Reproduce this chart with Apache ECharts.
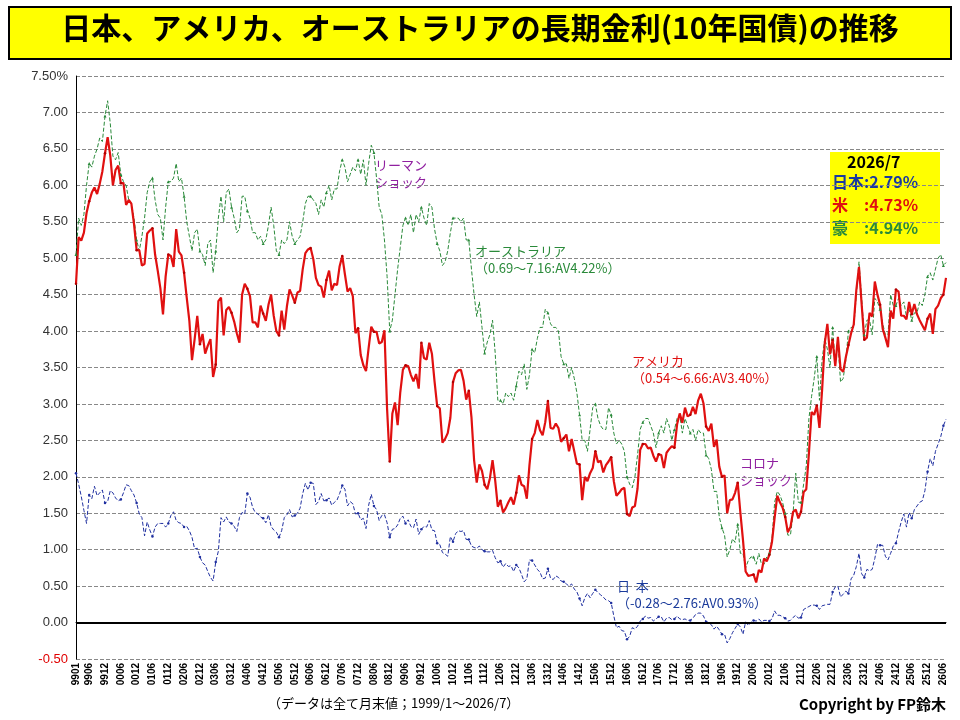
<!DOCTYPE html>
<html>
<head>
<meta charset="utf-8">
<script src="https://cdn.jsdelivr.net/npm/echarts@6/dist/echarts.min.js"></script>
<style>html,body{margin:0;padding:0;background:#fff}#chart{width:960px;height:720px}</style>
</head>
<body>
<div id="chart"></div>
<script>
// monthly end values, 1999/1 - 2026/7
const japan = [
  2.05,1.90,1.73,1.54,1.36,1.75,1.70,1.87,1.74,1.78,1.82,1.64,
  1.66,1.81,1.78,1.71,1.67,1.69,1.78,1.89,1.88,1.81,1.75,1.64,
  1.49,1.44,1.19,1.38,1.27,1.18,1.31,1.36,1.36,1.36,1.31,1.36,
  1.47,1.52,1.40,1.37,1.36,1.31,1.32,1.26,1.17,1.01,1.02,0.90,
  0.82,0.79,0.70,0.62,0.57,0.83,0.98,1.44,1.38,1.45,1.38,1.36,
  1.32,1.25,1.44,1.51,1.49,1.77,1.72,1.58,1.51,1.49,1.45,1.43,
  1.37,1.48,1.32,1.27,1.24,1.17,1.26,1.44,1.48,1.55,1.45,1.47,
  1.50,1.57,1.77,1.91,1.82,1.92,1.91,1.62,1.66,1.77,1.67,1.68,
  1.71,1.61,1.65,1.68,1.77,1.88,1.83,1.60,1.66,1.63,1.49,1.50,
  1.41,1.43,1.29,1.61,1.76,1.60,1.55,1.40,1.47,1.48,1.37,1.17,
  1.28,1.29,1.34,1.43,1.46,1.36,1.41,1.32,1.30,1.42,1.21,1.28,
  1.32,1.31,1.40,1.27,1.26,1.09,1.07,0.96,0.94,0.91,1.18,1.11,
  1.22,1.26,1.25,1.26,1.14,1.14,1.05,1.03,1.02,1.05,1.00,0.98,
  0.97,0.97,0.99,0.89,0.82,0.84,0.76,0.81,0.77,0.78,0.70,0.79,
  0.75,0.66,0.56,0.60,0.86,0.85,0.79,0.73,0.69,0.60,0.61,0.74,
  0.61,0.59,0.64,0.62,0.57,0.56,0.53,0.50,0.53,0.46,0.42,0.33,
  0.23,0.34,0.40,0.34,0.40,0.45,0.41,0.38,0.35,0.31,0.30,0.27,
  0.09,-0.07,-0.05,-0.11,-0.12,-0.23,-0.19,-0.07,-0.09,-0.05,0.02,0.05,
  0.09,0.06,0.07,0.02,0.05,0.08,0.08,0.01,0.06,0.07,0.04,0.05,
  0.09,0.05,0.04,0.05,0.03,0.03,0.06,0.11,0.13,0.13,0.09,0.01,
  0.00,-0.03,-0.09,-0.05,-0.10,-0.16,-0.16,-0.28,-0.22,-0.14,-0.08,-0.02,
  -0.06,-0.16,0.01,-0.04,0.00,0.03,0.02,0.05,0.01,0.03,0.03,0.02,
  0.05,0.16,0.10,0.10,0.08,0.06,0.02,0.03,0.07,0.10,0.06,0.07,
  0.18,0.20,0.22,0.24,0.24,0.23,0.18,0.23,0.24,0.25,0.25,0.42,
  0.49,0.50,0.35,0.39,0.43,0.40,0.60,0.65,0.77,0.95,0.67,0.62,
  0.73,0.71,0.73,0.88,1.07,1.06,1.06,0.91,0.86,0.95,1.05,1.09,
  1.24,1.38,1.49,1.31,1.51,1.43,1.55,1.60,1.65,1.67,1.81,2.07,
  2.25,2.15,2.35,2.45,2.55,2.70,2.79
];
const usa = [
  4.65,5.29,5.24,5.35,5.62,5.78,5.90,5.97,5.88,6.02,6.19,6.44,
  6.66,6.41,6.00,6.21,6.27,6.03,6.03,5.73,5.80,5.75,5.47,5.11,
  5.11,4.90,4.92,5.34,5.38,5.41,5.05,4.83,4.59,4.23,4.75,5.05,
  5.03,4.88,5.40,5.09,5.04,4.80,4.46,4.14,3.60,3.89,4.21,3.82,
  3.96,3.69,3.80,3.89,3.37,3.54,4.41,4.46,3.94,4.29,4.33,4.25,
  4.13,3.97,3.84,4.50,4.65,4.58,4.48,4.12,4.12,4.05,4.35,4.24,
  4.14,4.36,4.50,4.21,4.00,3.94,4.28,4.02,4.34,4.57,4.49,4.39,
  4.53,4.55,4.85,5.07,5.12,5.14,4.99,4.73,4.63,4.61,4.46,4.70,
  4.83,4.56,4.65,4.63,4.89,5.03,4.78,4.54,4.59,4.48,3.97,4.04,
  3.67,3.53,3.45,3.77,4.06,3.99,3.99,3.83,3.85,4.01,2.93,2.21,
  2.87,3.02,2.71,3.16,3.47,3.53,3.52,3.40,3.31,3.41,3.21,3.84,
  3.63,3.61,3.84,3.69,3.31,2.97,2.94,2.47,2.52,2.60,2.81,3.30,
  3.42,3.46,3.47,3.32,3.06,3.18,2.82,2.23,1.92,2.17,2.08,1.89,
  1.83,1.98,2.23,1.95,1.59,1.67,1.51,1.57,1.65,1.72,1.62,1.78,
  2.02,1.89,1.87,1.70,2.16,2.52,2.60,2.78,2.64,2.57,2.75,3.04,
  2.67,2.66,2.73,2.67,2.48,2.53,2.58,2.35,2.52,2.35,2.18,2.17,
  1.68,2.00,1.94,2.05,2.12,2.35,2.20,2.22,2.06,2.16,2.21,2.27,
  1.94,1.74,1.78,1.83,1.85,1.49,1.46,1.58,1.60,1.84,2.37,2.45,
  2.45,2.39,2.40,2.29,2.21,2.31,2.30,2.12,2.33,2.38,2.42,2.40,
  2.72,2.87,2.74,2.95,2.83,2.85,2.96,2.86,3.05,3.14,3.01,2.69,
  2.63,2.73,2.41,2.51,2.14,2.00,2.02,1.50,1.68,1.69,1.78,1.92,
  1.51,1.13,0.70,0.64,0.65,0.66,0.55,0.72,0.69,0.88,0.84,0.93,
  1.11,1.44,1.74,1.65,1.58,1.45,1.24,1.31,1.52,1.55,1.43,1.52,
  1.79,1.83,2.32,2.89,2.85,2.98,2.67,3.19,3.83,4.10,3.68,3.88,
  3.52,3.92,3.48,3.44,3.64,3.81,3.97,4.09,4.57,4.88,4.37,3.88,
  3.91,4.25,4.20,4.68,4.50,4.36,4.03,3.91,3.78,4.28,4.17,4.57,
  4.54,4.21,4.21,4.16,4.40,4.23,4.37,4.23,4.15,4.08,4.01,4.17,
  4.24,3.96,4.30,4.35,4.45,4.50,4.73
];
const australia = [
  5.05,5.55,5.45,5.60,6.00,6.30,6.25,6.40,6.50,6.65,6.60,6.95,
  7.16,6.85,6.40,6.35,6.45,6.15,6.05,6.00,5.80,5.75,5.55,5.25,
  5.10,5.30,5.55,5.90,6.05,6.10,5.80,5.60,5.55,5.25,5.70,6.05,
  6.05,6.10,6.30,6.05,6.10,5.85,5.50,5.30,5.10,5.35,5.40,5.10,
  5.05,4.90,5.20,5.25,4.80,5.10,5.55,5.85,5.50,5.90,5.95,5.70,
  5.55,5.35,5.40,5.85,5.85,5.65,5.55,5.35,5.35,5.25,5.30,5.20,
  5.25,5.45,5.70,5.45,5.10,5.05,5.25,5.20,5.25,5.50,5.30,5.20,
  5.25,5.30,5.50,5.75,5.85,5.85,5.80,5.75,5.60,5.80,5.70,5.90,
  6.00,5.80,5.95,5.95,6.20,6.35,6.25,6.05,6.15,6.25,6.20,6.35,
  6.15,6.35,6.00,6.30,6.55,6.45,6.10,5.70,5.60,5.25,4.75,4.00,
  4.15,4.50,4.85,5.15,5.45,5.55,5.45,5.60,5.35,5.60,5.50,5.70,
  5.55,5.45,5.75,5.70,5.40,5.20,5.10,4.90,4.95,5.10,5.35,5.55,
  5.55,5.55,5.50,5.55,5.25,5.25,4.85,4.50,4.20,4.40,4.05,3.70,
  3.85,3.95,4.15,3.70,3.05,3.05,3.00,3.15,3.10,3.15,3.05,3.25,
  3.45,3.40,3.55,3.20,3.40,3.75,3.70,3.90,4.05,4.05,4.30,4.25,
  4.10,4.05,4.05,4.00,3.65,3.55,3.55,3.35,3.50,3.35,3.15,2.85,
  2.50,2.50,2.35,2.65,2.95,3.00,2.80,2.70,2.65,2.65,2.95,2.85,
  2.60,2.45,2.50,2.45,2.35,2.00,1.90,1.85,2.00,2.30,2.65,2.75,
  2.80,2.80,2.70,2.60,2.40,2.60,2.70,2.60,2.80,2.70,2.50,2.65,
  2.80,2.85,2.60,2.80,2.70,2.60,2.65,2.50,2.65,2.60,2.60,2.30,
  2.25,2.10,1.80,1.80,1.45,1.30,1.20,0.90,1.00,1.15,1.10,1.35,
  0.95,0.95,0.75,0.85,0.90,0.90,0.80,0.95,0.80,0.80,0.90,0.95,
  1.15,1.65,1.80,1.75,1.65,1.50,1.20,1.20,1.50,2.05,1.65,1.65,
  1.90,2.15,2.80,3.10,3.35,3.65,3.05,3.60,3.90,3.75,3.50,4.05,
  3.55,3.85,3.30,3.35,3.60,4.00,4.05,4.05,4.50,4.95,4.45,3.95,
  4.15,4.15,3.95,4.45,4.40,4.30,4.10,3.95,3.95,4.50,4.35,4.35,
  4.45,4.35,4.40,4.20,4.30,4.15,4.25,4.25,4.40,4.35,4.50,4.75,
  4.80,4.70,4.85,5.00,5.05,4.90,4.94
];

// yymm category labels
const months = [];
for (let y = 1999; y <= 2026; y++) {
  for (let m = 1; m <= 12; m++) {
    if (y === 2026 && m > 7) break;
    months.push(String(y % 100).padStart(2, '0') + String(m).padStart(2, '0'));
  }
}

const showLabel = (i) => i === 0 || (i - 5) % 6 === 0;

const chart = echarts.init(document.getElementById('chart'));
const jp = 'Noto Sans CJK JP';

const note = (x, y, text, color, size) => ({
  type: 'text', left: x, top: y,
  style: { text, fill: color, font: `${size || 13}px "${jp}"`, lineHeight: 17 }
});

const option = {
  animation: false,
  backgroundColor: '#fff',
  grid: { left: 76, right: 14, top: 76, bottom: 61 },
  xAxis: {
    type: 'category', data: months, boundaryGap: false,
    axisLine: { lineStyle: { color: '#000' } },
    axisTick: { show: false },
    axisLabel: { interval: (i) => showLabel(i), rotate: 90, fontSize: 10, fontWeight: 'bold', color: '#000', margin: 4 },
    splitLine: { show: false }
  },
  yAxis: {
    type: 'value', min: -0.5, max: 7.5, interval: 0.5,
    axisLine: { show: true, lineStyle: { color: '#000' } },
    axisLabel: {
      fontSize: 13, fontFamily: 'Liberation Sans',
      formatter: (v) => v.toFixed(2) + (v === 7.5 ? '%' : ''),
      color: (v) => (v < 0 ? '#e00000' : '#333')
    },
    splitLine: { lineStyle: { color: '#888', type: 'dashed' } }
  },
  series: [
    {
      name: 'オーストラリア', type: 'line', data: australia,
      lineStyle: { color: '#2a8a3a', width: 1, type: 'dashed' },
      itemStyle: { color: '#2a8a3a' }, symbol: 'triangle', symbolSize: 3, showSymbol: true
    },
    {
      name: '日本', type: 'line', data: japan,
      lineStyle: { color: '#2030a0', width: 1, type: 'dashed' },
      itemStyle: { color: '#2030a0' }, symbol: 'circle', symbolSize: 2.5,
      markLine: {
        silent: true, symbol: 'none', label: { show: false },
        lineStyle: { color: '#000', width: 2, type: 'solid' },
        data: [{ yAxis: 0 }]
      }
    },
    {
      name: 'アメリカ', type: 'line', data: usa,
      lineStyle: { color: '#e01010', width: 2.2 },
      itemStyle: { color: '#b00000' }, symbol: 'circle', symbolSize: 2.5
    }
  ],
  graphic: [
    {
      type: 'rect', left: 8, top: 6,
      shape: { width: 942, height: 52 },
      style: { fill: '#ffff00', stroke: '#000', lineWidth: 2 }
    },
    {
      type: 'text', left: 'center', top: 13,
      style: { text: '日本、アメリカ、オーストラリアの長期金利(10年国債)の推移', fill: '#000', font: `bold 30px "${jp}"` }
    },
    note(375, 157, 'リーマン\nショック', '#9020a0'),
    note(475, 243, 'オーストラリア\n（0.69～7.16:AV4.22%）', '#2a8a3a'),
    note(632, 353, 'アメリカ\n（0.54～6.66:AV3.40%）', '#e01010'),
    note(740, 455, 'コロナ\nショック', '#9020a0'),
    note(617, 578, '日  本\n（-0.28～2.76:AV0.93%）', '#1a3a9a'),
    {
      type: 'rect', left: 830, top: 152,
      shape: { width: 110, height: 92 },
      style: { fill: '#ffff00' }
    },
    {
      type: 'text', left: 847, top: 154,
      style: { text: '2026/7', fill: '#000', font: `bold 16px "${jp}"` }
    },
    {
      type: 'text', left: 832, top: 174,
      style: { text: '日本:2.79%', fill: '#1a3aa0', font: `bold 16px "${jp}"` }
    },
    {
      type: 'text', left: 832, top: 197,
      style: { text: '米　:4.73%', fill: '#e01010', font: `bold 16px "${jp}"` }
    },
    {
      type: 'text', left: 832, top: 220,
      style: { text: '豪　:4.94%', fill: '#2a8a3a', font: `bold 16px "${jp}"` }
    },
    {
      type: 'text', left: 268, top: 697,
      style: { text: '（データは全て月末値；1999/1～2026/7）', fill: '#000', font: `13px "${jp}"` }
    },
    {
      type: 'text', right: 14, top: 697,
      style: { text: 'Copyright by FP鈴木', fill: '#000', font: `bold 15px "${jp}"` }
    }
  ]
};

chart.setOption(option);
</script>
</body>
</html>
